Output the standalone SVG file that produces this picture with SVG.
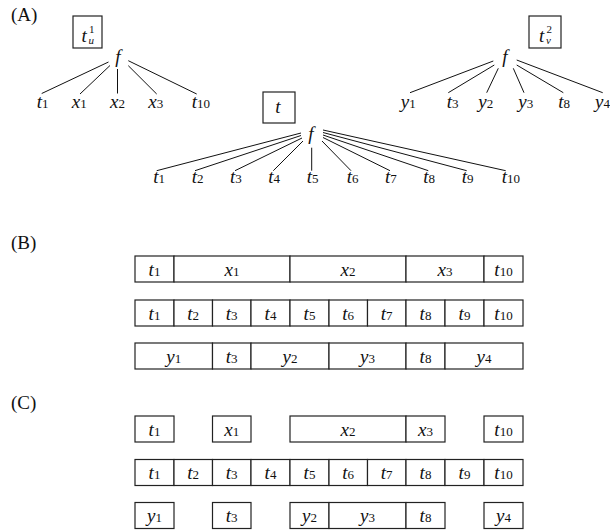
<svg xmlns="http://www.w3.org/2000/svg" width="610" height="531" viewBox="0 0 610 531" font-family="'Liberation Serif', 'Times New Roman', Times, serif">
<style>
.l{font-size:19px;font-style:italic;fill:#111}
.c{text-anchor:middle}
.s{font-size:13px;font-style:normal}
.ss{font-size:11px;fill:#111}
.sec{font-size:19px;fill:#111}
.box{fill:#fff;stroke:#222;stroke-width:1.2}
.e{stroke:#111;stroke-width:1;fill:none}
</style>
<rect width="610" height="531" fill="#fff"/>
<text class="sec" x="11" y="21">(A)</text>
<text class="sec" x="11" y="249">(B)</text>
<text class="sec" x="11" y="409">(C)</text>

<g id="connectors">
<line class="e" x1="108.5" y1="62" x2="41.7" y2="93.5"/>
<line class="e" x1="110" y1="65.5" x2="80" y2="94"/>
<line class="e" x1="117.5" y1="69" x2="117.5" y2="93.5"/>
<line class="e" x1="128.3" y1="65.7" x2="156.7" y2="94"/>
<line class="e" x1="128.3" y1="60.7" x2="196.7" y2="94"/>

<line class="e" x1="301" y1="133" x2="156.7" y2="170.7"/>
<line class="e" x1="301" y1="135.5" x2="195" y2="170.7"/>
<line class="e" x1="302" y1="138" x2="235" y2="170.7"/>
<line class="e" x1="303" y1="141" x2="273.3" y2="170.7"/>
<line class="e" x1="311.7" y1="147.7" x2="311.7" y2="170.7"/>
<line class="e" x1="322" y1="141" x2="351" y2="170.7"/>
<line class="e" x1="323" y1="137.5" x2="390" y2="170.7"/>
<line class="e" x1="323" y1="135" x2="428.3" y2="170.7"/>
<line class="e" x1="323" y1="132.5" x2="466.7" y2="170.7"/>
<line class="e" x1="323" y1="130" x2="505.7" y2="170.7"/>

<line class="e" x1="493.3" y1="61" x2="410" y2="92.7"/>
<line class="e" x1="494.3" y1="65" x2="448.3" y2="92.7"/>
<line class="e" x1="498.3" y1="68.3" x2="486.7" y2="92.7"/>
<line class="e" x1="513.3" y1="68.3" x2="524" y2="92.7"/>
<line class="e" x1="516.7" y1="65" x2="563.3" y2="92.7"/>
<line class="e" x1="516.7" y1="60" x2="602.7" y2="92.7"/>
</g>

<g id="tree1">
<g id="t1u-box"><rect class="box" x="73" y="16" width="29" height="32"/>
<text class="l" x="81.5" y="42">t</text><text class="ss" x="89" y="33">1</text><text class="ss" x="88.5" y="43.5" font-style="italic">u</text></g>
<g id="tree1-f"><text class="l c" x="118" y="63">f</text></g>
<g id="tree1-leaves">
<text class="l" x="36.7" y="107.7">t<tspan class="s">1</tspan></text>
<text class="l" x="71.7" y="107.7">x<tspan class="s">1</tspan></text>
<text class="l" x="110" y="107.7">x<tspan class="s">2</tspan></text>
<text class="l" x="148.3" y="107.7">x<tspan class="s">3</tspan></text>
<text class="l" x="191.7" y="107.7">t<tspan class="s">10</tspan></text>
</g>
</g>

<g id="tree2">
<g id="t-box"><rect class="box" x="263" y="92" width="32" height="31"/>
<text class="l c" x="278" y="113">t</text></g>
<g id="tree2-f"><text class="l c" x="311" y="140">f</text></g>
<g id="tree2-leaves">
<text class="l" x="153.3" y="183.3">t<tspan class="s">1</tspan></text>
<text class="l" x="191.7" y="183.3">t<tspan class="s">2</tspan></text>
<text class="l" x="230" y="183.3">t<tspan class="s">3</tspan></text>
<text class="l" x="268.3" y="183.3">t<tspan class="s">4</tspan></text>
<text class="l" x="306.7" y="183.3">t<tspan class="s">5</tspan></text>
<text class="l" x="346.7" y="183.3">t<tspan class="s">6</tspan></text>
<text class="l" x="385" y="183.3">t<tspan class="s">7</tspan></text>
<text class="l" x="423.3" y="183.3">t<tspan class="s">8</tspan></text>
<text class="l" x="461.7" y="183.3">t<tspan class="s">9</tspan></text>
<text class="l" x="501.7" y="183.3">t<tspan class="s">10</tspan></text>
</g>
</g>

<g id="tree3">
<g id="t2v-box"><rect class="box" x="529" y="16" width="32" height="32"/>
<text class="l" x="539" y="42">t</text><text class="ss" x="546.5" y="32.5">2</text><text class="ss" x="546" y="43.5" font-style="italic">v</text></g>
<g id="tree3-f"><text class="l c" x="505" y="63">f</text></g>
<g id="tree3-leaves">
<text class="l" x="400.7" y="108">y<tspan class="s">1</tspan></text>
<text class="l" x="446.7" y="108">t<tspan class="s">3</tspan></text>
<text class="l" x="478.3" y="108">y<tspan class="s">2</tspan></text>
<text class="l" x="518.3" y="108">y<tspan class="s">3</tspan></text>
<text class="l" x="558.3" y="108">t<tspan class="s">8</tspan></text>
<text class="l" x="595" y="108">y<tspan class="s">4</tspan></text>
</g>
</g>

<g id="B">
<g id="B-row1">
<g id="B1-t1"><rect class="box" x="135" y="256" width="39" height="26"/><text class="l c" x="154.5" y="275.5">t<tspan class="s">1</tspan></text></g>
<g id="B1-x1"><rect class="box" x="174" y="256" width="116" height="26"/><text class="l c" x="232" y="275.5">x<tspan class="s">1</tspan></text></g>
<g id="B1-x2"><rect class="box" x="290" y="256" width="116" height="26"/><text class="l c" x="348" y="275.5">x<tspan class="s">2</tspan></text></g>
<g id="B1-x3"><rect class="box" x="406" y="256" width="78" height="26"/><text class="l c" x="445" y="275.5">x<tspan class="s">3</tspan></text></g>
<g id="B1-t10"><rect class="box" x="484" y="256" width="39" height="26"/><text class="l c" x="503.5" y="275.5">t<tspan class="s">10</tspan></text></g>
</g>
<g id="B-row2">
<g id="B2-t1"><rect class="box" x="135" y="300" width="39" height="26"/><text class="l c" x="154.5" y="319.5">t<tspan class="s">1</tspan></text></g>
<g id="B2-t2"><rect class="box" x="174" y="300" width="38.5" height="26"/><text class="l c" x="193.2" y="319.5">t<tspan class="s">2</tspan></text></g>
<g id="B2-t3"><rect class="box" x="212.5" y="300" width="38.5" height="26"/><text class="l c" x="231.7" y="319.5">t<tspan class="s">3</tspan></text></g>
<g id="B2-t4"><rect class="box" x="251" y="300" width="39" height="26"/><text class="l c" x="270.5" y="319.5">t<tspan class="s">4</tspan></text></g>
<g id="B2-t5"><rect class="box" x="290" y="300" width="39" height="26"/><text class="l c" x="309.5" y="319.5">t<tspan class="s">5</tspan></text></g>
<g id="B2-t6"><rect class="box" x="329" y="300" width="38.5" height="26"/><text class="l c" x="348.2" y="319.5">t<tspan class="s">6</tspan></text></g>
<g id="B2-t7"><rect class="box" x="367.5" y="300" width="38.5" height="26"/><text class="l c" x="386.7" y="319.5">t<tspan class="s">7</tspan></text></g>
<g id="B2-t8"><rect class="box" x="406" y="300" width="39" height="26"/><text class="l c" x="425.5" y="319.5">t<tspan class="s">8</tspan></text></g>
<g id="B2-t9"><rect class="box" x="445" y="300" width="39" height="26"/><text class="l c" x="464.5" y="319.5">t<tspan class="s">9</tspan></text></g>
<g id="B2-t10"><rect class="box" x="484" y="300" width="39" height="26"/><text class="l c" x="503.5" y="319.5">t<tspan class="s">10</tspan></text></g>
</g>
<g id="B-row3">
<g id="B3-y1"><rect class="box" x="135" y="343" width="77.5" height="26"/><text class="l c" x="173.7" y="362.5">y<tspan class="s">1</tspan></text></g>
<g id="B3-t3"><rect class="box" x="212.5" y="343" width="38.5" height="26"/><text class="l c" x="231.7" y="362.5">t<tspan class="s">3</tspan></text></g>
<g id="B3-y2"><rect class="box" x="251" y="343" width="78" height="26"/><text class="l c" x="290" y="362.5">y<tspan class="s">2</tspan></text></g>
<g id="B3-y3"><rect class="box" x="329" y="343" width="77" height="26"/><text class="l c" x="367.5" y="362.5">y<tspan class="s">3</tspan></text></g>
<g id="B3-t8"><rect class="box" x="406" y="343" width="39" height="26"/><text class="l c" x="425.5" y="362.5">t<tspan class="s">8</tspan></text></g>
<g id="B3-y4"><rect class="box" x="445" y="343" width="78" height="26"/><text class="l c" x="484" y="362.5">y<tspan class="s">4</tspan></text></g>
</g>
</g>

<g id="C">
<g id="C-row1">
<g id="C1-t1"><rect class="box" x="135" y="416" width="39" height="26"/><text class="l c" x="154.5" y="435.5">t<tspan class="s">1</tspan></text></g>
<g id="C1-x1"><rect class="box" x="212.5" y="416" width="38.5" height="26"/><text class="l c" x="231.7" y="435.5">x<tspan class="s">1</tspan></text></g>
<g id="C1-x2"><rect class="box" x="290" y="416" width="116" height="26"/><text class="l c" x="348" y="435.5">x<tspan class="s">2</tspan></text></g>
<g id="C1-x3"><rect class="box" x="406" y="416" width="39" height="26"/><text class="l c" x="425.5" y="435.5">x<tspan class="s">3</tspan></text></g>
<g id="C1-t10"><rect class="box" x="484" y="416" width="39" height="26"/><text class="l c" x="503.5" y="435.5">t<tspan class="s">10</tspan></text></g>
</g>
<g id="C-row2">
<g id="C2-t1"><rect class="box" x="135" y="459.5" width="39" height="26"/><text class="l c" x="154.5" y="479">t<tspan class="s">1</tspan></text></g>
<g id="C2-t2"><rect class="box" x="174" y="459.5" width="38.5" height="26"/><text class="l c" x="193.2" y="479">t<tspan class="s">2</tspan></text></g>
<g id="C2-t3"><rect class="box" x="212.5" y="459.5" width="38.5" height="26"/><text class="l c" x="231.7" y="479">t<tspan class="s">3</tspan></text></g>
<g id="C2-t4"><rect class="box" x="251" y="459.5" width="39" height="26"/><text class="l c" x="270.5" y="479">t<tspan class="s">4</tspan></text></g>
<g id="C2-t5"><rect class="box" x="290" y="459.5" width="39" height="26"/><text class="l c" x="309.5" y="479">t<tspan class="s">5</tspan></text></g>
<g id="C2-t6"><rect class="box" x="329" y="459.5" width="38.5" height="26"/><text class="l c" x="348.2" y="479">t<tspan class="s">6</tspan></text></g>
<g id="C2-t7"><rect class="box" x="367.5" y="459.5" width="38.5" height="26"/><text class="l c" x="386.7" y="479">t<tspan class="s">7</tspan></text></g>
<g id="C2-t8"><rect class="box" x="406" y="459.5" width="39" height="26"/><text class="l c" x="425.5" y="479">t<tspan class="s">8</tspan></text></g>
<g id="C2-t9"><rect class="box" x="445" y="459.5" width="39" height="26"/><text class="l c" x="464.5" y="479">t<tspan class="s">9</tspan></text></g>
<g id="C2-t10"><rect class="box" x="484" y="459.5" width="39" height="26"/><text class="l c" x="503.5" y="479">t<tspan class="s">10</tspan></text></g>
</g>
<g id="C-row3">
<g id="C3-y1"><rect class="box" x="135" y="502.5" width="39" height="26"/><text class="l c" x="154.5" y="522">y<tspan class="s">1</tspan></text></g>
<g id="C3-t3"><rect class="box" x="212.5" y="502.5" width="38.5" height="26"/><text class="l c" x="231.7" y="522">t<tspan class="s">3</tspan></text></g>
<g id="C3-y2"><rect class="box" x="290" y="502.5" width="39" height="26"/><text class="l c" x="309.5" y="522">y<tspan class="s">2</tspan></text></g>
<g id="C3-y3"><rect class="box" x="329" y="502.5" width="77" height="26"/><text class="l c" x="367.5" y="522">y<tspan class="s">3</tspan></text></g>
<g id="C3-t8"><rect class="box" x="406" y="502.5" width="39" height="26"/><text class="l c" x="425.5" y="522">t<tspan class="s">8</tspan></text></g>
<g id="C3-y4"><rect class="box" x="484" y="502.5" width="39" height="26"/><text class="l c" x="503.5" y="522">y<tspan class="s">4</tspan></text></g>
</g>
</g>
</svg>
